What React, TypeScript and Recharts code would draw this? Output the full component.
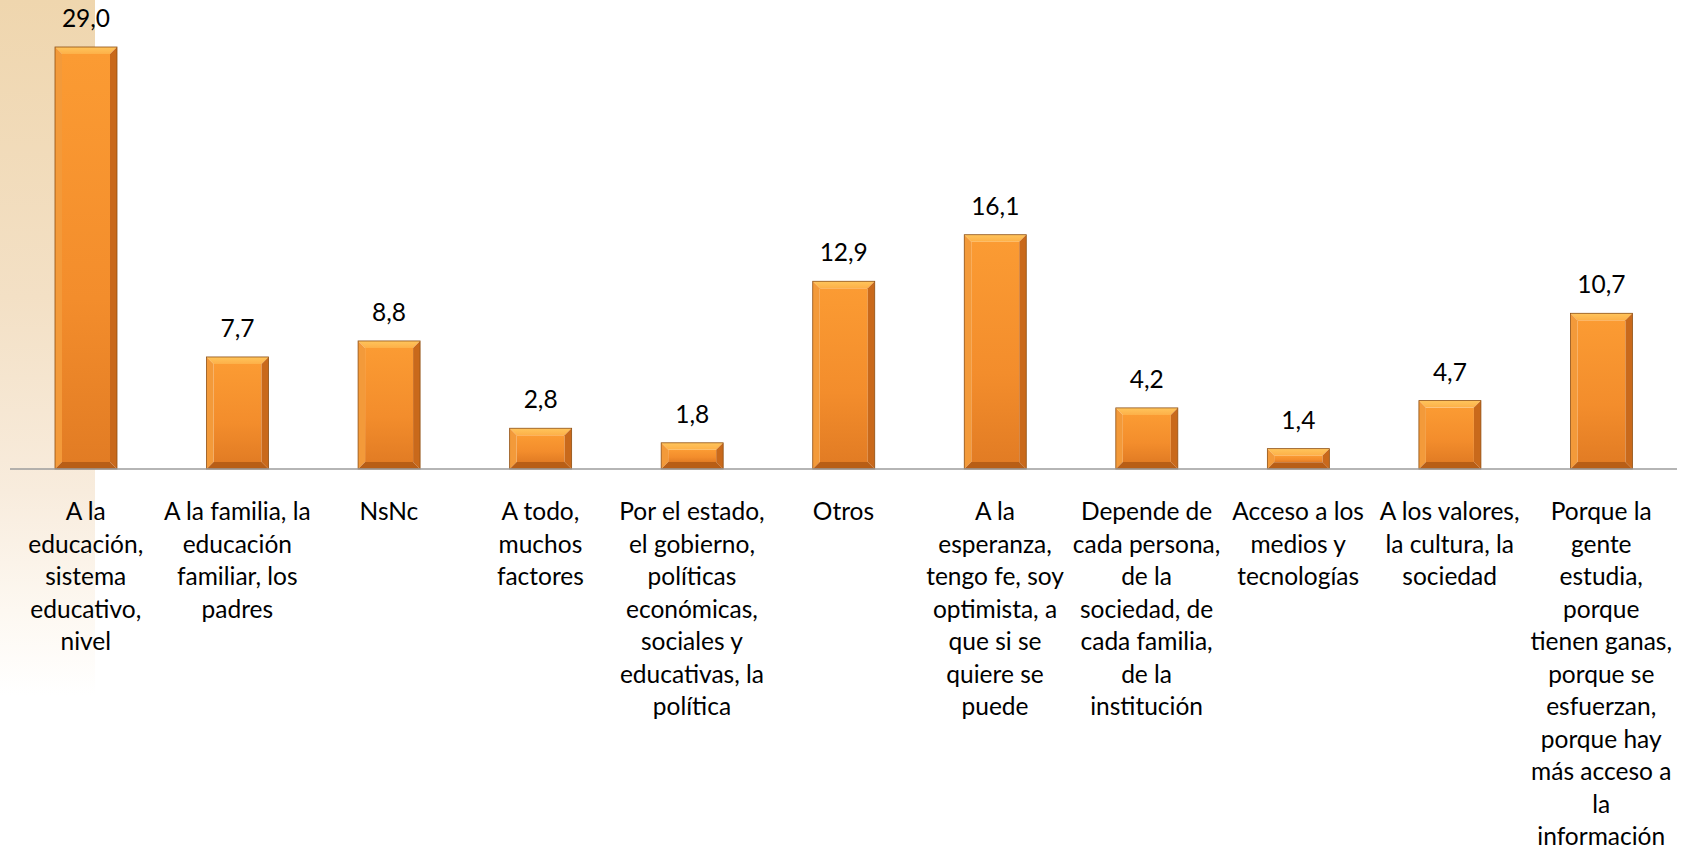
import { Bar, BarChart, LabelList, XAxis, YAxis } from "recharts";

const categories = [
  "A la\neducación,\nsistema\neducativo,\nnivel",
  "A la familia, la\neducación\nfamiliar, los\npadres",
  "NsNc",
  "A todo,\nmuchos\nfactores",
  "Por el estado,\nel gobierno,\npolíticas\neconómicas,\nsociales y\neducativas, la\npolítica",
  "Otros",
  "A la\nesperanza,\ntengo fe, soy\noptimista, a\nque si se\nquiere se\npuede",
  "Depende de\ncada persona,\nde la\nsociedad, de\ncada familia,\nde la\ninstitución",
  "Acceso a los\nmedios y\ntecnologías",
  "A los valores,\nla cultura, la\nsociedad",
  "Porque la\ngente\nestudia,\nporque\ntienen ganas,\nporque se\nesfuerzan,\nporque hay\nmás acceso a\nla\ninformación",
];

const values = [29.0, 7.7, 8.8, 2.8, 1.8, 12.9, 16.1, 4.2, 1.4, 4.7, 10.7];

const data = categories.map((c, i) => ({ name: c, value: values[i] }));

const FONT = "Lato, 'Open Sans', sans-serif";
const FONT_SIZE = 24.5;
const LINE = 32.5;

function CategoryTick(props: any) {
  const { x, y, payload } = props;
  const lines = String(payload.value).split("\n");
  return (
    <g>
      {lines.map((l, i) => (
        <text
          key={i}
          x={x}
          y={y + 51 + i * LINE}
          textAnchor="middle"
          fontFamily={FONT}
          fontSize={FONT_SIZE}
          fill="#000"
        >
          {l}
        </text>
      ))}
    </g>
  );
}

function BevelBar(props: any) {
  const { x, y, width: w, height: h } = props;
  if (!h || h <= 0) return null;
  const b = Math.min(7, h / 3);
  return (
    <g>
      <rect x={x + b} y={y + b} width={w - 2 * b} height={h - 2 * b} fill="url(#barFace)" />
      <polygon
        points={`${x},${y} ${x + w},${y} ${x + w - b},${y + b} ${x + b},${y + b}`}
        fill="url(#barTop)"
      />
      <polygon
        points={`${x},${y} ${x + b},${y + b} ${x + b},${y + h - b} ${x},${y + h}`}
        fill="#f39a3a"
      />
      <polygon
        points={`${x + w},${y} ${x + w},${y + h} ${x + w - b},${y + h - b} ${x + w - b},${y + b}`}
        fill="#c9691b"
      />
      <polygon
        points={`${x},${y + h} ${x + w},${y + h} ${x + w - b},${y + h - b} ${x + b},${y + h - b}`}
        fill="#b85e16"
      />
      <rect x={x} y={y} width={w} height={h} fill="none" stroke="#8f4f12" strokeWidth={0.8} />
    </g>
  );
}

function ValueLabel(props: any) {
  const { x, y, width, value } = props;
  return (
    <text
      x={x + width / 2}
      y={y - 20}
      textAnchor="middle"
      fontFamily={FONT}
      fontSize={FONT_SIZE}
      fill="#000"
    >
      {Number(value).toFixed(1).replace(".", ",")}
    </text>
  );
}

export default function App() {
  return (
    <div style={{ position: "absolute", left: 0, top: 0, width: 1687, height: 848, background: "#fff" }}>
      <div
        style={{
          position: "absolute",
          left: 0,
          top: 0,
          width: 95,
          height: 848,
          background:
            "linear-gradient(to bottom, #efd6ae 0%, #f3e0c5 35%, #f8ecdd 58%, #fdf8f1 72%, #ffffff 82%)",
        }}
      />
      <div style={{ position: "absolute", left: 0, top: 0 }}>
        <BarChart
          width={1687}
          height={848}
          data={data}
          margin={{ top: 47, right: 10, bottom: 0, left: 10 }}
          barCategoryGap={0}
        >
          <defs>
            <linearGradient id="barFace" x1="0" y1="0" x2="0" y2="1">
              <stop offset="0%" stopColor="#fb9b33" />
              <stop offset="60%" stopColor="#f38d2c" />
              <stop offset="100%" stopColor="#e27c24" />
            </linearGradient>
            <linearGradient id="barTop" x1="0" y1="0" x2="0" y2="1">
              <stop offset="0%" stopColor="#ffc55c" />
              <stop offset="100%" stopColor="#fdb048" />
            </linearGradient>
          </defs>
          <YAxis hide domain={[0, 29]} />
          <XAxis
            dataKey="name"
            height={379}
            interval={0}
            tickLine={false}
            tickSize={0}
            tickMargin={0}
            axisLine={{ stroke: "#9c9c9c", strokeWidth: 1.5 }}
            tick={<CategoryTick />}
          />
          <Bar dataKey="value" barSize={62} shape={<BevelBar />} isAnimationActive={false}>
            <LabelList dataKey="value" content={<ValueLabel />} />
          </Bar>
        </BarChart>
      </div>
    </div>
  );
}
